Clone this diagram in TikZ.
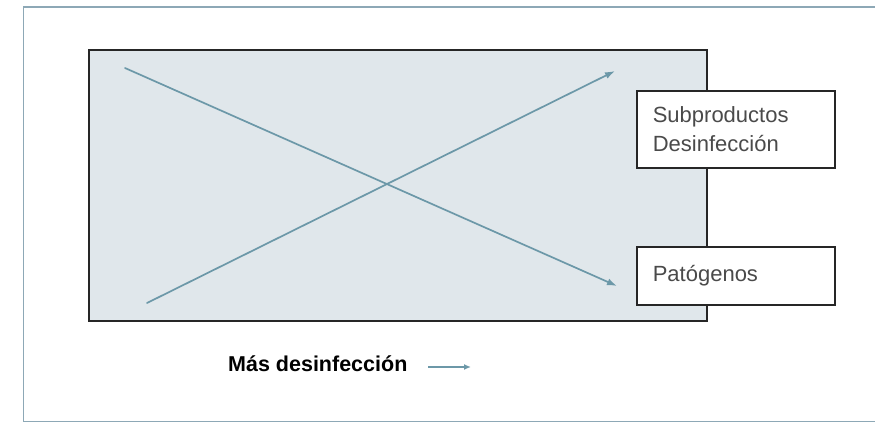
\documentclass[tikz,border=0pt]{standalone}
\usepackage{fontspec}
\setmainfont{Liberation Sans}
\usetikzlibrary{arrows.meta}
\definecolor{frameblue}{HTML}{8DA8B6}
\definecolor{arrowblue}{HTML}{6C98A8}
\definecolor{panelgray}{HTML}{E0E7EB}
\definecolor{labelgray}{HTML}{4A4A4A}
\tikzset{
  panel/.style={draw=black!85, line width=1.6pt, fill=panelgray, inner sep=0pt},
  labelbox/.style={draw=black!85, line width=1.6pt, fill=white, minimum width=198pt,
    text width=166pt, inner xsep=16pt, inner ysep=0pt, align=left,
    text=labelgray, font=\fontsize{22}{29}\selectfont, anchor=north west},
  trend/.style={draw=arrowblue, line width=1.7pt, line cap=round,
    -{Latex[length=10pt,width=7pt]}},
}
\begin{document}
\begin{tikzpicture}[x=1pt,y=-1pt]
  \useasboundingbox (0,0) rectangle (875,424);
  % outer frame (open on the right)
  \draw[frameblue, line width=1.6pt] (880,7) -- (23.5,7) -- (23.5,421.5) -- (880,421.5);
  % shaded panel
  \node[panel, minimum width=618pt, minimum height=271pt, anchor=north west] (panel) at (88,49) {};
  % crossing trends
  \coordinate (dbpstart) at (147,303);
  \coordinate (dbpend) at (615,71);
  \coordinate (patstart) at (125,68);
  \coordinate (patend) at (617,286);
  \draw[trend] (dbpstart) -- (dbpend);
  \draw[trend] (patstart) -- (patend);
  % output labels
  \node[labelbox, minimum height=77pt] (dbp) at (636,90) {Subproductos\\Desinfección};
  \node[labelbox, minimum height=58pt] (pat) at (636,246) {Patógenos\vphantom{S}};
  % axis caption
  \node[font=\bfseries\fontsize{21.5}{24}\selectfont, anchor=west, inner sep=0pt] (axis) at (228,364) {Más desinfección};
  \coordinate (axisstart) at (428,367);
  \coordinate (axisend) at (471,367);
  \draw[arrowblue, line width=1.4pt, -{Latex[length=7pt,width=6pt]}] (axisstart) -- (axisend);
\end{tikzpicture}
\end{document}
